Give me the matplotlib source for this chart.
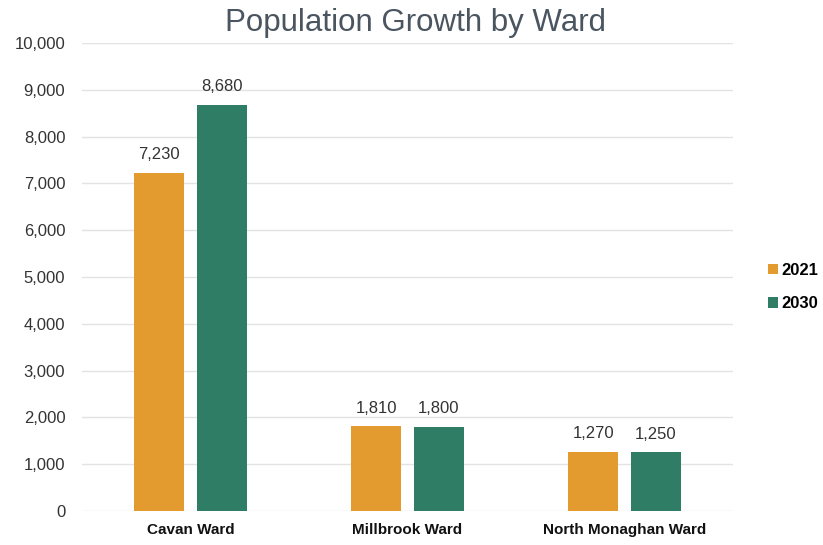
import matplotlib
matplotlib.use("Agg")
import matplotlib.pyplot as plt
import numpy as np
from matplotlib import font_manager as fm

names = {f.name for f in fm.fontManager.ttflist}
narrow = "Liberation Sans Narrow" if "Liberation Sans Narrow" in names else "Liberation Sans"

categories = ["Cavan Ward", "Millbrook Ward", "North Monaghan Ward"]
series_names = ["2021", "2030"]
values_2021 = [7230, 1810, 1270]
values_2030 = [8680, 1800, 1250]
yticks = [0, 1000, 2000, 3000, 4000, 5000, 6000, 7000, 8000, 9000, 10000]

colors = ["#E39A2F", "#2E7D64"]

fig = plt.figure(figsize=(8.23, 5.45), dpi=100)
ax = fig.add_axes([0.0996, 0.0624, 0.791, 0.8586])

x = np.arange(len(categories))
w = 0.23
off = 0.144
b1 = ax.bar(x - off, values_2021, w, color=colors[0], label=series_names[0])
b2 = ax.bar(x + off, values_2030, w, color=colors[1], label=series_names[1])

for bars, vals in ((b1, values_2021), (b2, values_2030)):
    for r, v in zip(bars, vals):
        ax.text(r.get_x() + r.get_width() / 2, v + 230, f"{v:,}", ha="center", va="bottom",
                fontsize=12, family=narrow, color="#333333")

ax.set_xlim(-0.5, 2.5)
ax.set_ylim(0, 10000)
ax.set_yticks(yticks)
ax.set_yticklabels([f"{t:,}" for t in yticks], family=narrow, fontsize=12, color="#333333")
ax.set_xticks(x)
ax.set_xticklabels(categories, family=narrow, fontsize=11, fontweight="bold", color="#111111")
ax.tick_params(axis="both", length=0)
ax.tick_params(axis="y", pad=12)
ax.tick_params(axis="x", pad=9)
ax.yaxis.grid(True, color="#E3E3E3", linewidth=1)
ax.set_axisbelow(True)
for s in ax.spines.values():
    s.set_visible(False)

fig.text(0.505, 0.958, "Population Growth by Ward", ha="center", va="center",
         fontsize=22.5, color="#4A5560", family="Liberation Sans")

leg = fig.legend(handles=[b1, b2], labels=series_names, loc="center left",
                 bbox_to_anchor=(0.915, 0.473), frameon=False,
                 prop={"family": "Liberation Sans", "weight": "bold", "size": 12},
                 handlelength=0.6, handleheight=0.6, handletextpad=0.2, labelspacing=1.1)

fig.savefig("out.png", dpi=100)
